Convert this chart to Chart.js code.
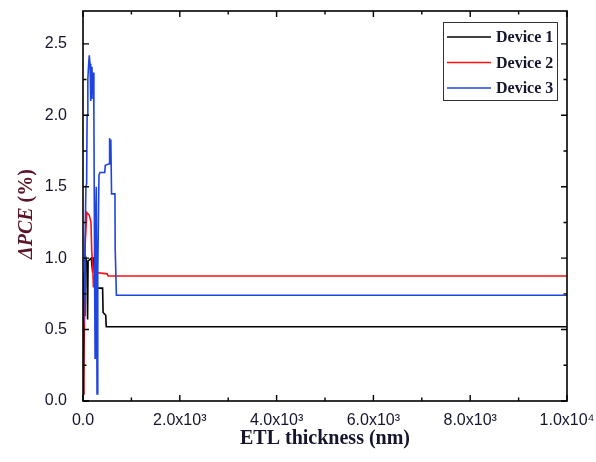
<!DOCTYPE html>
<html>
<head>
<meta charset="utf-8">
<script src="https://cdn.jsdelivr.net/npm/chart.js@4.4.0/dist/chart.umd.min.js"></script>
<style>
  html, body { margin: 0; padding: 0; background: #fff; }
</style>
</head>
<body>
<canvas id="myChart" width="596" height="462"></canvas>
<script>
// series (x = ETL thickness in nm, y = delta PCE in %)
const seriesNames = ["Device 1", "Device 2", "Device 3"];
const seriesColors = ["#000000", "#ff1010", "#1f45e0"];

const device1X = [0, 10, 20, 30, 40, 60, 80, 95, 105, 170, 200, 215, 270, 275, 405, 415, 470, 480, 10000];
const device1Y = [0.05, 0.4, 0.15, 0.6, 0.98, 1.0, 0.97, 0.57, 0.98, 1.0, 0.9, 1.0, 1.0, 0.79, 0.79, 0.62, 0.6, 0.52, 0.52];

const device2X = [0, 15, 30, 45, 80, 130, 165, 180, 200, 215, 225, 235, 245, 500, 520, 10000];
const device2Y = [0.05, 0.5, 0.6, 1.1, 1.32, 1.3, 1.25, 1.05, 0.95, 0.8, 0.88, 0.82, 0.9, 0.89, 0.875, 0.875];

const device3X = [0, 10, 20, 30, 60, 75, 85, 100, 115, 130, 145, 155, 165, 175, 185, 200, 215, 225, 240, 250, 262, 275, 290, 305, 330, 350, 450, 460, 540, 550, 565, 575, 590, 660, 665, 680, 690, 10000];
const device3Y = [0.55, 0.9, 0.62, 0.85, 1.5, 1.52, 2.0, 2.25, 2.35, 2.42, 2.36, 2.1, 2.3, 2.12, 2.34, 2.15, 2.3, 2.0, 0.9, 0.3, 1.3, 1.5, 0.05, 0.9, 1.58, 1.6, 1.6, 1.65, 1.66, 1.84, 1.68, 1.83, 1.45, 1.45, 1.07, 1.07, 0.74, 0.74];

const xTickValues = [0, 2000, 4000, 6000, 8000, 10000];
const xTickLabels = ["0.0", "2.0x10\u00B3", "4.0x10\u00B3", "6.0x10\u00B3", "8.0x10\u00B3", "1.0x10\u2074"];
const yTickValues = [0, 0.5, 1.0, 1.5, 2.0, 2.5];
const yTickLabels = ["0.0", "0.5", "1.0", "1.5", "2.0", "2.5"];

const xTitle = "ETL thickness (nm)";
const yTitleItalic = "\u0394PCE";
const yTitleRest = " (%)";

const toPoints = (xs, ys) => xs.map((x, i) => ({ x: x, y: ys[i] }));
const allX = [device1X, device2X, device3X];
const allY = [device1Y, device2Y, device3Y];

const tickColor = "#15152e";

// box frame with inward ticks on all four sides, plus titles and legend
const framePlugin = {
  id: "frame",
  afterDraw(chart) {
    const ctx = chart.ctx;
    const a = chart.chartArea;
    const xs = chart.scales.x, ys = chart.scales.y;
    ctx.save();
    ctx.strokeStyle = "#000";
    ctx.lineWidth = 1.6;
    ctx.strokeRect(a.left, a.top, a.right - a.left, a.bottom - a.top);

    ctx.lineWidth = 1.4;
    ctx.beginPath();
    for (let v = 0; v <= 10000; v += 1000) {
      const px = xs.getPixelForValue(v);
      const len = (v % 2000 === 0) ? 6 : 3.5;
      ctx.moveTo(px, a.bottom); ctx.lineTo(px, a.bottom - len);
      ctx.moveTo(px, a.top); ctx.lineTo(px, a.top + len);
    }
    for (let v = 0; v <= 2.5001; v += 0.25) {
      const py = ys.getPixelForValue(v);
      const len = (Math.round(v * 100) % 50 === 0) ? 6 : 3.5;
      ctx.moveTo(a.left, py); ctx.lineTo(a.left + len, py);
      ctx.moveTo(a.right, py); ctx.lineTo(a.right - len, py);
    }
    ctx.stroke();

    // x title
    ctx.fillStyle = "#15152e";
    ctx.font = "bold 20px 'Liberation Serif', 'Times New Roman', serif";
    ctx.textAlign = "center";
    ctx.textBaseline = "middle";
    ctx.fillText(xTitle, (a.left + a.right) / 2, 439);

    // y title, rotated, italic part + upright part
    ctx.save();
    ctx.translate(27, (a.top + a.bottom) / 2 + 8);
    ctx.rotate(-Math.PI / 2);
    ctx.fillStyle = "#5a1428";
    const f1 = "italic bold 20px 'Liberation Serif', 'Times New Roman', serif";
    const f2 = "bold 20px 'Liberation Serif', 'Times New Roman', serif";
    ctx.font = f1; const w1 = ctx.measureText(yTitleItalic).width;
    ctx.font = f2; const w2 = ctx.measureText(yTitleRest).width;
    ctx.textAlign = "left";
    ctx.font = f1; ctx.fillText(yTitleItalic, -(w1 + w2) / 2, 0);
    ctx.font = f2; ctx.fillText(yTitleRest, -(w1 + w2) / 2 + w1, 0);
    ctx.restore();

    // legend box
    const bx = a.right - 124, by = a.top + 11, bw = 114, bh = 78;
    ctx.fillStyle = "#fff";
    ctx.fillRect(bx, by, bw, bh);
    ctx.strokeStyle = "#333";
    ctx.lineWidth = 1;
    ctx.strokeRect(bx + 0.5, by + 0.5, bw, bh);
    ctx.font = "bold 16px 'Liberation Serif', 'Times New Roman', serif";
    ctx.textAlign = "left";
    chart.data.datasets.forEach((ds, i) => {
      const ry = by + 15 + i * 25.5;
      ctx.strokeStyle = ds.borderColor;
      ctx.lineWidth = 1.6;
      ctx.beginPath();
      ctx.moveTo(bx + 4, ry); ctx.lineTo(bx + 48, ry);
      ctx.stroke();
      ctx.fillStyle = "#15152e";
      ctx.fillText(ds.label, bx + 53, ry + 1);
    });
    ctx.restore();
  }
};

new Chart(document.getElementById("myChart").getContext("2d"), {
  type: "line",
  data: {
    datasets: seriesNames.map((name, i) => ({
      label: name,
      data: toPoints(allX[i], allY[i]),
      borderColor: seriesColors[i],
      backgroundColor: seriesColors[i],
      borderWidth: 1.6,
      pointRadius: 0,
      tension: 0,
      fill: false,
      order: 2 - i
    }))
  },
  options: {
    responsive: false,
    animation: false,
    layout: { padding: { top: 11, right: 29, left: 0, bottom: 0 } },
    plugins: { legend: { display: false }, tooltip: { enabled: false } },
    scales: {
      x: {
        type: "linear",
        min: 0, max: 10000,
        grid: { display: false },
        border: { display: false },
        afterBuildTicks: s => { s.ticks = xTickValues.map(v => ({ value: v })); },
        afterFit: s => { s.height = 61; s.paddingLeft = 0; s.paddingRight = 0; },
        ticks: {
          maxRotation: 0,
          autoSkip: false,
          padding: 2,
          color: tickColor,
          font: { family: "'Liberation Sans', Arial, sans-serif", size: 16 },
          callback: (v) => xTickLabels[xTickValues.indexOf(v)]
        }
      },
      y: {
        min: 0, max: 2.73,
        grid: { display: false },
        border: { display: false },
        afterBuildTicks: s => { s.ticks = yTickValues.map(v => ({ value: v })); },
        afterFit: s => { s.width = 83; s.paddingTop = 0; s.paddingBottom = 0; },
        ticks: {
          padding: 8,
          color: tickColor,
          font: { family: "'Liberation Sans', Arial, sans-serif", size: 16 },
          callback: (v) => yTickLabels[yTickValues.indexOf(v)]
        }
      }
    }
  },
  plugins: [framePlugin]
});
</script>
</body>
</html>
